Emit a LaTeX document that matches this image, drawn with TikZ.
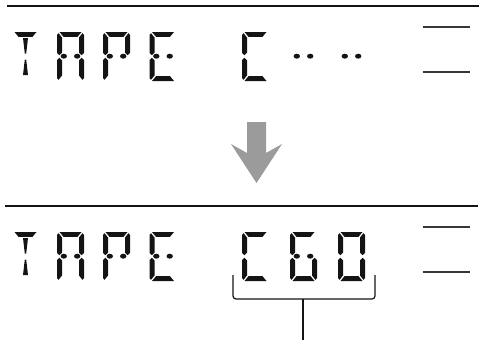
\documentclass[tikz,border=0pt]{standalone}
\usepackage{xcolor}
\usepackage{tikz}
\definecolor{zwart}{RGB}{20,20,20}
\definecolor{grijs}{RGB}{155,155,155}

\tikzset{seg/.style={fill=zwart, draw=none}}

% segmenten in lokale coordinaten (breedte 27, hoogte 49)
\newcommand{\sega}{\fill[seg] (2.5,0) -- (24.5,0) -- (20.5,4.8) -- (6.5,4.8) -- cycle;}
\newcommand{\segb}{\fill[seg] (27,3) -- (25.5,1.2) -- (22,5.5) -- (22,20.5) -- (24.6,23.2) -- (27,21) -- cycle;}
\newcommand{\segc}{\fill[seg] (27,46) -- (25.5,47.8) -- (22,43.5) -- (22,28.5) -- (24.6,25.8) -- (27,28) -- cycle;}
\newcommand{\segd}{\fill[seg] (2.5,49) -- (24.5,49) -- (20.5,44.2) -- (6.5,44.2) -- cycle;}
\newcommand{\sege}{\fill[seg] (0,46) -- (1.5,47.8) -- (5,43.5) -- (5,28.5) -- (2.4,25.8) -- (0,28) -- cycle;}
\newcommand{\segf}{\fill[seg] (0,3) -- (1.5,1.2) -- (5,5.5) -- (5,20.5) -- (2.4,23.2) -- (0,21) -- cycle;}
\newcommand{\segg}{\fill[seg] (6.8,24.2) ellipse [x radius=3.2pt, y radius=2.5pt]
  (20.2,24.2) ellipse [x radius=3.2pt, y radius=2.5pt];}
\newcommand{\segh}{\fill[seg] (11,6) -- (16,6) -- (14.2,21.5) -- (12.8,21.5) -- cycle
  (12.8,27.5) -- (14.2,27.5) -- (16,43) -- (11,43) -- cycle;}

% teken een teken op (x,y) met een lijst segmenten
\newcommand{\teken}[3]{%
  \begin{scope}[shift={(#1,#2)}]
    \foreach \s in {#3} {\csname seg\s\endcsname}
  \end{scope}}

\begin{document}
\begin{tikzpicture}[x=1pt, y=-1pt]
  \useasboundingbox (0,0) rectangle (479,340);
  % Scheidingslijnen
  \draw[line width=2pt, zwart] (7,6) -- (479,6);
  \draw[line width=2pt, zwart] (5,206) -- (478,206);
  % Korte streepjes rechts
  \foreach \y in {27,72,227,272}
    \draw[line width=1.5pt, zwart!85] (423,\y) -- (470,\y);
  % Bovenste display: TAPE C-- --
  \teken{12}{32}{a,h}
  \teken{57}{32}{a,b,c,e,f,g}
  \teken{103}{32}{a,b,e,f,g}
  \teken{149.5}{32}{a,d,e,f,g}
  \teken{242}{32}{a,d,e,f}
  \teken{290}{32}{g}
  \teken{338}{32}{g}
  % Pijl omlaag
  \fill[grijs] (247,122) -- (266,122) -- (266,153) -- (282,144) -- (256.5,183)
    -- (231,144) -- (247,153) -- cycle;
  % Onderste display: TAPE C60
  \teken{12}{232}{a,h}
  \teken{57}{232}{a,b,c,e,f,g}
  \teken{103}{232}{a,b,e,f,g}
  \teken{149.5}{232}{a,d,e,f,g}
  \teken{242}{232}{a,d,e,f}
  \teken{290}{232}{a,c,d,e,f,g}
  \teken{338}{232}{a,b,c,d,e,f}
  % Haak onder C60
  \coordinate (haakL) at (233,275);
  \coordinate (haakR) at (375,275);
  \coordinate (haakM) at (303,299);
  \coordinate (eind) at (303,340);
  \draw[line width=1.2pt, zwart, rounded corners=3pt] (haakL) |- (haakM) -| (haakR);
  \draw[line width=1.2pt, zwart] (haakM) -- (eind);
\end{tikzpicture}
\end{document}
